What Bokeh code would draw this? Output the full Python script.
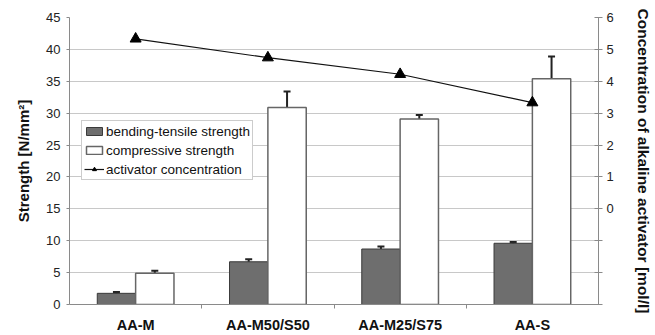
import numpy as np
from bokeh.plotting import figure
from bokeh.models import (Range1d, LinearAxis, FixedTicker, Whisker, ColumnDataSource,
                          TeeHead, Legend, LegendItem)
from bokeh.transform import dodge
from bokeh.embed import file_html
from bokeh.resources import INLINE

categories = ["AA-M", "AA-M50/S50", "AA-M25/S75", "AA-S"]
bending = [1.75, 6.7, 8.7, 9.6]
bending_err = [0.2, 0.4, 0.4, 0.2]
compressive = [4.9, 30.9, 29.1, 35.4]
compressive_err = [0.4, 2.5, 0.6, 3.5]
activator = [5.33, 4.74, 4.22, 3.33]
left_ticks = [0, 5, 10, 15, 20, 25, 30, 35, 40, 45]
right_ticks = [-3, -2, -1, 0, 1, 2, 3, 4, 5, 6]

xc = np.arange(len(categories)) + 0.5
src = ColumnDataSource(dict(
    x=xc, bend=bending, comp=compressive, act=activator,
    bend_lo=np.array(bending) - np.array(bending_err),
    bend_hi=np.array(bending) + np.array(bending_err),
    comp_lo=np.array(compressive) - np.array(compressive_err),
    comp_hi=np.array(compressive) + np.array(compressive_err),
))

FONT = "Liberation Sans"
GRID = "#c8c8c8"
AXIS = "#8a8a8a"

p = figure(width=655, height=335, x_range=Range1d(0, 4), y_range=Range1d(0, 45),
           output_backend="svg", toolbar_location=None,
           min_border_left=69, min_border_right=57, min_border_top=17, min_border_bottom=31)
p.outline_line_color = None
p.background_fill_color = "white"
p.xgrid.visible = False
p.ygrid.ticker = FixedTicker(ticks=left_ticks)
p.ygrid.grid_line_color = GRID

p.extra_y_ranges = {"conc": Range1d(-3, 6)}

bw = 0.29
r_bend = p.vbar(x=dodge("x", -bw / 2, range=p.x_range), top="bend", width=bw, source=src,
                fill_color="#6e6e6e", line_color="#3a3a3a", line_width=1)
r_comp = p.vbar(x=dodge("x", bw / 2, range=p.x_range), top="comp", width=bw, source=src,
                fill_color="white", line_color="#666666", line_width=1.5)

for lo, hi, off in (("bend_lo", "bend_hi", -bw / 2), ("comp_lo", "comp_hi", bw / 2)):
    w = Whisker(source=src, base=dodge("x", off, range=p.x_range), lower=lo, upper=hi,
                line_color="#222222", line_width=2,
                upper_head=TeeHead(size=7, line_color="#222222", line_width=2),
                lower_head=TeeHead(size=7, line_color="#222222", line_width=2))
    p.add_layout(w)

r_line = p.line(x="x", y="act", source=src, y_range_name="conc", line_color="#111111", line_width=1.2)
r_tri = p.scatter(x="x", y="act", source=src, y_range_name="conc", marker="triangle",
                  size=11, fill_color="black", line_color="black")

# x axis
xa = p.xaxis[0]
xa.ticker = FixedTicker(ticks=list(xc), minor_ticks=[1, 2, 3])
xa.major_label_overrides = {float(v): c for v, c in zip(xc, categories)}
xa.major_tick_line_color = None
xa.major_tick_out = 0
xa.major_tick_in = 0
xa.minor_tick_out = 4
xa.minor_tick_in = 0
xa.minor_tick_line_color = AXIS
xa.axis_line_color = AXIS
xa.major_label_text_font = FONT
xa.major_label_text_font_style = "bold"
xa.major_label_text_font_size = "14.5px"
xa.major_label_text_color = "#111111"
xa.major_label_standoff = 8

# left axis
ya = p.yaxis[0]
ya.ticker = FixedTicker(ticks=left_ticks)
ya.minor_tick_line_color = None
ya.major_tick_in = 0
ya.major_tick_out = 3
ya.major_tick_line_color = AXIS
ya.axis_line_color = AXIS
ya.major_label_text_font = FONT
ya.major_label_text_font_size = "13px"
ya.major_label_text_color = "#222222"
ya.major_label_standoff = 6
ya.axis_label = "Strength [N/mm²]"
ya.axis_label_text_font = FONT
ya.axis_label_text_font_style = "bold"
ya.axis_label_text_font_size = "15px"
ya.axis_label_text_color = "#111111"
ya.axis_label_standoff = 11

# right axis
ra = LinearAxis(y_range_name="conc", ticker=FixedTicker(ticks=right_ticks))
ra.major_label_overrides = {-3: "", -2: "", -1: ""}
ra.minor_tick_line_color = None
ra.major_tick_in = 4
ra.major_tick_out = 4
ra.major_tick_line_color = AXIS
ra.axis_line_color = AXIS
ra.major_label_text_font = FONT
ra.major_label_text_font_size = "13px"
ra.major_label_text_color = "#222222"
ra.major_label_standoff = 4
ra.axis_label = "Concentration of alkaline activator [mol/l]"
ra.axis_label_text_font = FONT
ra.axis_label_text_font_style = "bold"
ra.axis_label_text_font_size = "15.5px"
ra.axis_label_text_color = "#111111"
ra.axis_label_standoff = 18
p.add_layout(ra, "right")

legend = Legend(items=[
    LegendItem(label="bending-tensile strength", renderers=[r_bend]),
    LegendItem(label="compressive strength", renderers=[r_comp]),
    LegendItem(label="activator concentration", renderers=[r_line, r_tri]),
], location=(12, 124))
legend.label_text_font = FONT
legend.label_text_font_size = "13.5px"
legend.label_text_color = "#111111"
legend.glyph_width = 20
legend.glyph_height = 10
legend.label_height = 16
legend.label_standoff = 2
legend.spacing = 3
legend.padding = 2
legend.margin = 0
legend.border_line_color = "#999999"
legend.border_line_width = 1
legend.background_fill_alpha = 1
p.add_layout(legend, "center")

open("out.html", "w").write(file_html(p, INLINE))
